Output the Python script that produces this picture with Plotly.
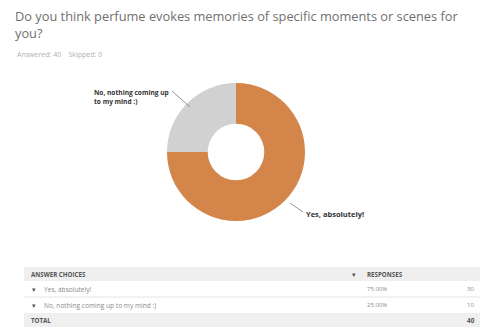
import plotly.graph_objects as go

title_lines = ["Do you think perfume evokes memories of specific moments or scenes for", "you?"]
answered = 40
skipped = 0
choices = ["Yes, absolutely!", "No, nothing coming up to my mind :)"]
pie_labels = ["Yes, absolutely!", "No, nothing coming up<br>to my mind :)"]
percents = [75.00, 25.00]
counts = [30, 10]
colors = ["#D4854A", "#D1D1D1"]
header_labels = ["ANSWER CHOICES", "RESPONSES"]

W, H = 480, 327

def px(x):
    return x / W

def py(y):
    return 1 - y / H

fig = go.Figure()

# donut
cx, cy, r = 236, 152, 69
fig.add_trace(go.Pie(
    labels=choices, values=percents, hole=0.41, sort=False, direction="clockwise",
    rotation=0, marker=dict(colors=colors, line=dict(width=0)), textinfo="none",
    hoverinfo="label+percent", showlegend=False,
    domain=dict(x=[px(cx - r), px(cx + r)], y=[py(cy + r), py(cy - r)]),
))

shapes = []
annotations = []
font = "Open Sans"

# title
annotations.append(dict(text="<br>".join(title_lines), x=px(13), y=py(5), xref="paper", yref="paper",
                        xanchor="left", yanchor="top", align="left", showarrow=False,
                        font=dict(family=font, size=12.8, color="#707070")))
annotations.append(dict(text=f"Answered: {answered}&nbsp;&nbsp;&nbsp;&nbsp;Skipped: {skipped}",
                        x=px(15), y=py(54), xref="paper", yref="paper", xanchor="left",
                        yanchor="middle", showarrow=False,
                        font=dict(family=font, size=7, color="#B0B0B0")))

# pie leader lines & labels
for (x0, y0, x1, y1) in [(172, 91, 190, 107), (290, 203, 303, 212)]:
    shapes.append(dict(type="line", xref="paper", yref="paper", x0=px(x0), y0=py(y0),
                       x1=px(x1), y1=py(y1), line=dict(color="#777777", width=0.8)))
annotations.append(dict(text="<b>" + pie_labels[1] + "</b>", x=px(92), y=py(97), xref="paper",
                        yref="paper", showarrow=False, xanchor="left", yanchor="middle", align="left",
                        font=dict(family=font, size=6.6, color="#333333")))
annotations.append(dict(text="<b>" + pie_labels[0] + "</b>", x=px(304), y=py(214), xref="paper",
                        yref="paper", showarrow=False, xanchor="left", yanchor="middle", align="left",
                        font=dict(family=font, size=7.5, color="#333333")))

# table
band = "#EFEFEF"
tx0, tx1 = 24, 480
shapes.append(dict(type="rect", xref="paper", yref="paper", x0=px(tx0), x1=px(tx1),
                   y0=py(281), y1=py(267), fillcolor=band, line=dict(width=0), layer="below"))
shapes.append(dict(type="rect", xref="paper", yref="paper", x0=px(tx0), x1=px(tx1),
                   y0=py(327), y1=py(313), fillcolor=band, line=dict(width=0), layer="below"))
shapes.append(dict(type="line", xref="paper", yref="paper", x0=px(tx0), x1=px(tx1),
                   y0=py(297), y1=py(297), line=dict(color="#E4E4E4", width=1)))

def txt(s, x, y, anchor="left", color="#8A8A8A", size=6.6):
    annotations.append(dict(text=s, x=px(x), y=py(y), xref="paper", yref="paper", showarrow=False,
                            xanchor=anchor, yanchor="middle",
                            font=dict(family=font, size=size, color=color)))

txt("<b>" + header_labels[0] + "</b>", 29, 274, color="#555555", size=6.2)
txt("▾", 350, 274, color="#555555")
txt("<b>" + header_labels[1] + "</b>", 365, 274, color="#555555", size=6.2)

row_y = [289, 305]
for i, c in enumerate(choices):
    txt("▾", 30, row_y[i], color="#555555")
    txt(c, 42, row_y[i])
    txt(f"{percents[i]:.2f}%", 365, row_y[i], size=6)
    txt(str(counts[i]), 476, row_y[i], anchor="right", size=6)

txt("<b>TOTAL</b>", 29, 320, color="#555555", size=6.2)
txt(f"<b>{sum(counts)}</b>", 477, 320, anchor="right", color="#555555", size=6.4)

fig.update_layout(
    width=W, height=H, margin=dict(l=0, r=0, t=0, b=0),
    paper_bgcolor="white", plot_bgcolor="white",
    shapes=shapes, annotations=annotations,
)

fig.write_html("out.html")
